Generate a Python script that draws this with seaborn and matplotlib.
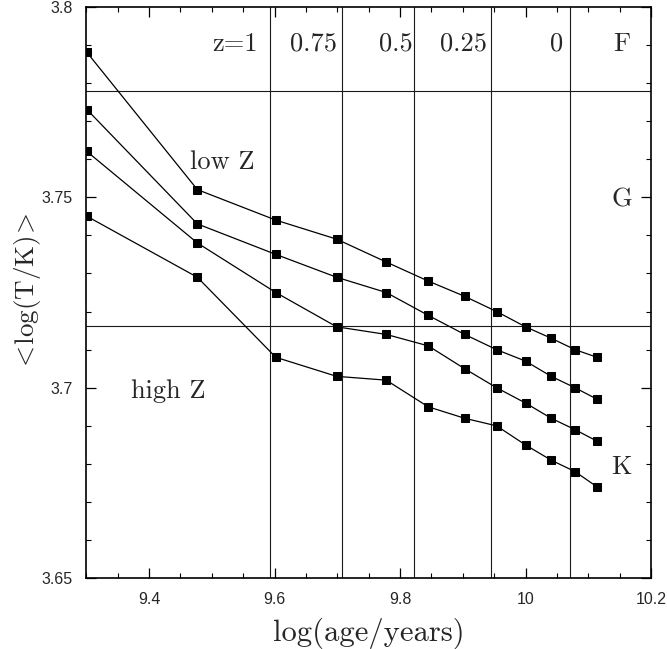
import numpy as np
import pandas as pd
import matplotlib
matplotlib.use("Agg")
import matplotlib.pyplot as plt
from matplotlib.ticker import MultipleLocator, FormatStrFormatter
import seaborn as sns

# log(age/years) for ages of 2..13 Gyr
log_age = [9.301, 9.477, 9.602, 9.699, 9.778, 9.845, 9.903, 9.954, 10.0, 10.041, 10.079, 10.114]

# mean log effective temperature, one track per metallicity (low Z at top, high Z at bottom)
logT_z1 = [3.788, 3.752, 3.744, 3.739, 3.733, 3.728, 3.724, 3.720, 3.716, 3.713, 3.710, 3.708]
logT_z2 = [3.773, 3.743, 3.735, 3.729, 3.725, 3.719, 3.714, 3.710, 3.707, 3.703, 3.700, 3.697]
logT_z3 = [3.762, 3.738, 3.725, 3.716, 3.714, 3.711, 3.705, 3.700, 3.696, 3.692, 3.689, 3.686]
logT_z4 = [3.745, 3.729, 3.708, 3.703, 3.702, 3.695, 3.692, 3.690, 3.685, 3.681, 3.678, 3.674]
track_names = ["Z1", "Z2", "Z3", "Z4"]

# redshift markers (age boundaries) and spectral-type boundaries
redshift_ages = [9.592, 9.707, 9.823, 9.945, 10.071]
redshift_labels = ["z=1", "0.75", "0.5", "0.25", "0"]
redshift_label_x = [9.574, 9.700, 9.820, 9.939, 10.060]
spectral_bounds = [3.778, 3.7163]
spectral_labels = ["F", "G", "K"]
spectral_label_y = [3.7885, 3.7475, 3.6773]

df = pd.concat(
    [pd.DataFrame({"log_age": log_age, "logT": vals, "track": name})
     for name, vals in zip(track_names, [logT_z1, logT_z2, logT_z3, logT_z4])],
    ignore_index=True,
)

sns.set_style("ticks")
plt.rcParams["mathtext.fontset"] = "cm"
plt.rcParams["font.family"] = ["Liberation Sans", "DejaVu Sans"]

fig = plt.figure(figsize=(6.67, 6.49), dpi=100)
ax = fig.add_axes([0.1294, 0.1089, 0.9760 - 0.1294, 0.9897 - 0.1089])

for xv in redshift_ages:
    ax.axvline(xv, color="#1a1a1a", lw=0.8, zorder=1)
for yv in spectral_bounds:
    ax.axhline(yv, color="#1a1a1a", lw=0.8, zorder=1)

sns.lineplot(
    data=df, x="log_age", y="logT", hue="track",
    palette=["black"] * 4, marker="s", markersize=6.4,
    markeredgecolor="black", markerfacecolor="black",
    lw=0.9, estimator=None, legend=False, ax=ax, zorder=3,
)

ax.set_xlim(9.3, 10.2)
ax.set_ylim(3.65, 3.8)

ax.xaxis.set_major_locator(MultipleLocator(0.2))
ax.xaxis.set_minor_locator(MultipleLocator(0.05))
ax.yaxis.set_major_locator(MultipleLocator(0.05))
ax.yaxis.set_minor_locator(MultipleLocator(0.01))
ax.xaxis.set_major_formatter(FormatStrFormatter("%g"))
ax.yaxis.set_major_formatter(FormatStrFormatter("%g"))

ax.tick_params(which="both", direction="in", top=True, right=True,
               color="black", labelsize=11.5)
ax.tick_params(which="major", length=7, width=0.9)
ax.tick_params(which="minor", length=3.5, width=0.8)
ax.tick_params(axis="x", which="major", pad=10)
ax.tick_params(axis="y", which="major", pad=10)

for sp in ax.spines.values():
    sp.set_linewidth(1.2)
    sp.set_color("black")

serif = "cmr10"
ax.set_xlabel("log(age/years)", family=serif, fontsize=22, va="center")
ax.xaxis.set_label_coords(0.5, -0.0957)
ax.set_ylabel(r"$<\!\mathrm{log(T/K)}\!>$", fontsize=19.5, va="center")
ax.yaxis.set_label_coords(-0.105, 0.5)

for lab, xv in zip(redshift_labels, redshift_label_x):
    ax.text(xv, 3.7885, lab, family=serif, fontsize=19, ha="right", va="baseline")
for lab, yv in zip(spectral_labels, spectral_label_y):
    ax.text(10.153, yv, lab, family=serif, fontsize=19, ha="center", va="baseline")

ax.text(9.517, 3.7574, "low Z", family=serif, fontsize=19, ha="center", va="baseline")
ax.text(9.430, 3.6973, "high Z", family=serif, fontsize=19, ha="center", va="baseline")

fig.savefig("out.png", dpi=100)
